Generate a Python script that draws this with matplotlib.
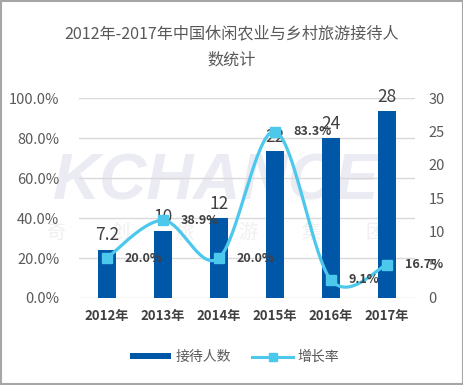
import numpy as np
import matplotlib
matplotlib.use('Agg')
import matplotlib.pyplot as plt
from matplotlib.patches import Patch, Rectangle
from matplotlib.lines import Line2D

plt.rcParams['font.family'] = ['Noto Sans CJK SC', 'DejaVu Sans']

years = ['2012年', '2013年', '2014年', '2015年', '2016年', '2017年']
visitors = [7.2, 10, 12, 22, 24, 28]          # 接待人数 (亿人次)
growth = [20.0, 38.9, 20.0, 83.3, 9.1, 16.7]   # 增长率 (%)

bar_color = '#0057a8'
line_color = '#4cc8ec'
text_gray = '#595959'


def smooth(xs, ys, n=40):
    # bezier smoothing like office charts
    px = np.r_[xs[0], xs, xs[-1]]
    py = np.r_[ys[0], ys, ys[-1]]
    out_x, out_y = [], []
    t = np.linspace(0, 1, n)
    for i in range(1, len(px) - 2):
        x0, y0 = px[i], py[i]
        x3, y3 = px[i + 1], py[i + 1]
        x1, y1 = x0 + (px[i + 1] - px[i - 1]) / 6, y0 + (py[i + 1] - py[i - 1]) / 6
        x2, y2 = x3 - (px[i + 2] - px[i]) / 6, y3 - (py[i + 2] - py[i]) / 6
        out_x.append((1-t)**3*x0 + 3*(1-t)**2*t*x1 + 3*(1-t)*t**2*x2 + t**3*x3)
        out_y.append((1-t)**3*y0 + 3*(1-t)**2*t*y1 + 3*(1-t)*t**2*y2 + t**3*y3)
    return np.concatenate(out_x), np.concatenate(out_y)


fig = plt.figure(figsize=(4.64, 3.85), dpi=100)
fig.patches.append(Rectangle((0.002, 0.003), 0.995, 0.994, transform=fig.transFigure,
                             fill=False, edgecolor='#a6a6a6', linewidth=1.5))

fig.text(0.5, 0.913, '2012年-2017年中国休闲农业与乡村旅游接待人', ha='center', va='center',
         fontsize=11.6, color=text_gray)
fig.text(0.5, 0.845, '数统计', ha='center', va='center', fontsize=11.6, color=text_gray)

# watermark (behind the chart)
fig.text(0.466, 0.527, 'KCHANCE', ha='center', va='center', fontsize=47,
         fontweight='bold', style='italic', family='Liberation Sans', color='#ebebf3', zorder=-1)
for i, ch in enumerate('奇创旅游集团'):
    fig.text(0.123 + i * 0.137, 0.395, ch, ha='center', va='center', fontsize=14,
             color='#f0f0f0', zorder=-1)

x = np.arange(len(years))

ax = fig.add_axes([0.170, 0.226, 0.724, 0.519])
ax.set_zorder(1)
ax.patch.set_visible(False)
ax.set_ylim(0, 100)
ax.set_yticks(np.arange(0, 101, 20))
ax.set_yticklabels([f'{v:.1f}%' for v in np.arange(0, 101, 20)])
ax.set_xlim(-0.5, len(years) - 0.5)
ax.set_xticks(x)
ax.set_xticklabels(years, fontweight='bold', fontsize=9.5, color='#404040')
ax.grid(axis='y', color='#d9d9d9', linewidth=1)
ax.tick_params(axis='y', length=0, labelsize=10.5, labelcolor=text_gray, pad=14)
ax.tick_params(axis='x', length=0, pad=8)
for s in ax.spines.values():
    s.set_visible(False)

ax2 = ax.twinx()
ax2.set_zorder(2)
ax2.patch.set_visible(False)
ax2.bar(x, visitors, width=0.32, color=bar_color, zorder=2)
ax2.set_ylim(0, 30)
ax2.set_yticks(np.arange(0, 31, 5))
ax2.tick_params(axis='y', length=0, labelsize=10.5, labelcolor=text_gray, pad=10)
for s in ax2.spines.values():
    s.set_visible(False)
for xi, v in zip(x, visitors):
    ax2.annotate(f'{v:g}', (xi, v), xytext=(0, 4), textcoords='offset points',
                 ha='center', va='bottom', fontsize=12.5, color='#404040')

ax3 = ax.twinx()
ax3.set_zorder(3)
ax3.set_ylim(0, 100)
ax3.axis('off')
sx, sy = smooth(x.astype(float), np.array(growth))
ax3.plot(sx, sy, color=line_color, linewidth=2.3, zorder=3)
ax3.plot(x, growth, linestyle='none', marker='s', markersize=7.5, color=line_color, zorder=4)
for xi, g in zip(x, growth):
    ax3.annotate(f'{g:.1f}%', (xi, g), xytext=(13, 0), textcoords='offset points',
                 ha='left', va='center', fontsize=9, fontweight='bold', color='#404040')

handles = [Patch(facecolor=bar_color),
           Line2D([], [], color=line_color, linewidth=2.2, marker='s', markersize=6)]
fig.legend(handles, ['接待人数', '增长率'], loc='center', bbox_to_anchor=(0.505, 0.073),
           ncol=2, frameon=False, fontsize=10, labelcolor=text_gray,
           handlelength=3, handleheight=0.35, columnspacing=1.5, handletextpad=0.3)

fig.savefig('out.png', dpi=100)
